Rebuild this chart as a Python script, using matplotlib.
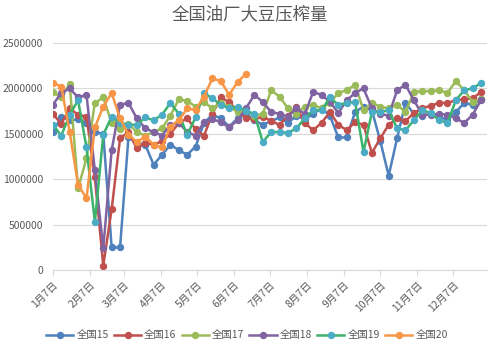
import numpy as np
import pandas as pd
import matplotlib
matplotlib.use('Agg')
import matplotlib.pyplot as plt

plt.rcParams['font.family'] = ['Noto Sans CJK SC', 'DejaVu Sans']

# weekly crush volume, tonnes
s15 = [1.52, 1.69, 1.65, 1.66, 1.62, 1.52, 1.50, 0.25, 0.25, 1.46, 1.40, 1.38, 1.16,
       1.27, 1.38, 1.32, 1.27, 1.36, 1.62, 1.71, 1.67, 1.58, 1.67, 1.72, 1.65, 1.60,
       1.64, 1.68, 1.62, 1.70, 1.66, 1.72, 1.78, 1.70, 1.46, 1.46, 1.74, 1.80, 1.76,
       1.42, 1.04, 1.45, 1.84, 1.72, 1.70, 1.72, 1.68, 1.66, 1.74, 1.84, 1.82, 1.88]
s16 = [1.72, 1.61, 1.78, 1.71, 1.69, 1.02, 0.05, 0.67, 1.45, 1.52, 1.34, 1.40, 1.38,
       1.42, 1.50, 1.62, 1.67, 1.55, 1.48, 1.72, 1.90, 1.85, 1.75, 1.67, 1.66, 1.69,
       1.64, 1.60, 1.70, 1.80, 1.62, 1.54, 1.62, 1.74, 1.60, 1.54, 1.63, 1.60, 1.29,
       1.45, 1.60, 1.67, 1.64, 1.73, 1.78, 1.81, 1.84, 1.84, 1.87, 1.88, 1.89, 1.96]
s17 = [1.96, 1.90, 2.05, 0.90, 1.23, 1.84, 1.90, 1.62, 1.55, 1.61, 1.52, 1.48, 1.52,
       1.56, 1.70, 1.88, 1.86, 1.80, 1.85, 1.78, 1.84, 1.80, 1.74, 1.76, 1.70, 1.72,
       1.98, 1.91, 1.78, 1.72, 1.80, 1.82, 1.78, 1.84, 1.95, 1.98, 2.04, 1.76, 1.84,
       1.80, 1.78, 1.82, 1.74, 1.96, 1.97, 1.97, 1.98, 1.95, 2.08, 1.98, 1.85, 1.88]
s18 = [1.82, 1.95, 2.00, 1.90, 1.93, 1.10, 0.24, 1.32, 1.82, 1.84, 1.67, 1.56, 1.52,
       1.48, 1.60, 1.62, 1.52, 1.48, 1.63, 1.66, 1.63, 1.57, 1.65, 1.78, 1.93, 1.85,
       1.74, 1.72, 1.69, 1.78, 1.72, 1.96, 1.93, 1.85, 1.73, 1.87, 1.95, 2.00, 1.78,
       1.72, 1.70, 1.98, 2.04, 1.87, 1.71, 1.71, 1.72, 1.71, 1.67, 1.62, 1.71, 1.87]
s19 = [1.60, 1.48, 1.71, 1.87, 1.35, 0.53, 1.49, 1.69, 1.62, 1.60, 1.60, 1.68, 1.65,
       1.71, 1.84, 1.72, 1.49, 1.68, 1.95, 1.89, 1.82, 1.78, 1.80, 1.75, 1.72, 1.41,
       1.52, 1.52, 1.51, 1.56, 1.67, 1.76, 1.76, 1.90, 1.82, 1.84, 1.85, 1.30, 1.74,
       1.74, 1.76, 1.56, 1.54, 1.65, 1.76, 1.73, 1.65, 1.62, 1.87, 1.98, 2.00, 2.06]
s20 = [2.06, 2.02, 1.52, 0.94, 0.79, 1.57, 1.80, 1.95, 1.67, 1.49, 1.41, 1.47, 1.38,
       1.35, 1.58, 1.65, 1.78, 1.76, 1.91, 2.11, 2.08, 1.93, 2.07, 2.16]

names = ['全国15', '全国16', '全国17', '全国18', '全国19', '全国20']
series = [s15, s16, s17, s18, s19, s20]
line_colors = ['#4F81BD', '#C0504D', '#9BBB59', '#8064A2', '#3BB36B', '#F79646']
marker_colors = ['#4F81BD', '#C0504D', '#9BBB59', '#8064A2', '#4BACC6', '#F79646']

month_labels = [f'{m}月7日' for m in range(1, 13)]
month_days = [(pd.Timestamp(2019, m, 7) - pd.Timestamp(2019, 1, 7)).days for m in range(1, 13)]

fig = plt.figure(figsize=(4.99, 3.55), dpi=100)
ax = fig.add_axes([0.106, 0.239, 0.87, 0.64])

for name, vals, lc, mc in zip(names, series, line_colors, marker_colors):
    days = np.arange(len(vals)) * 7
    ax.plot(days, np.array(vals) * 1e6, color=lc, lw=1.8, marker='o', ms=4.3,
            mfc=mc, mec=mc, label=name)

ax.set_xlim(0, 362)
ax.set_ylim(0, 2500000)
ax.set_yticks(np.arange(0, 2500001, 500000))
ax.set_yticklabels([str(v) for v in range(0, 2500001, 500000)])
ax.set_xticks(month_days)
ax.set_xticklabels(month_labels, rotation=45, ha='right', rotation_mode='anchor')
ax.tick_params(axis='y', length=0, labelsize=7.5, labelcolor='#595959', pad=7)
ax.tick_params(axis='x', length=4, color='#D9D9D9', labelsize=7.5, labelcolor='#595959', pad=3)
ax.grid(axis='y', color='#D9D9D9', lw=0.8)
ax.set_axisbelow(True)
for side in ['top', 'right', 'left']:
    ax.spines[side].set_visible(False)
ax.spines['bottom'].set_color('#D9D9D9')

fig.suptitle('全国油厂大豆压榨量', y=0.985, fontsize=12.5, color='#595959')
fig.legend(loc='center', bbox_to_anchor=(0.495, 0.055), ncol=6, frameon=False,
           fontsize=7.5, handlelength=2.6, columnspacing=0.5, handletextpad=0.3,
           labelcolor='#595959')

fig.savefig('out.png', dpi=100, facecolor='white')
